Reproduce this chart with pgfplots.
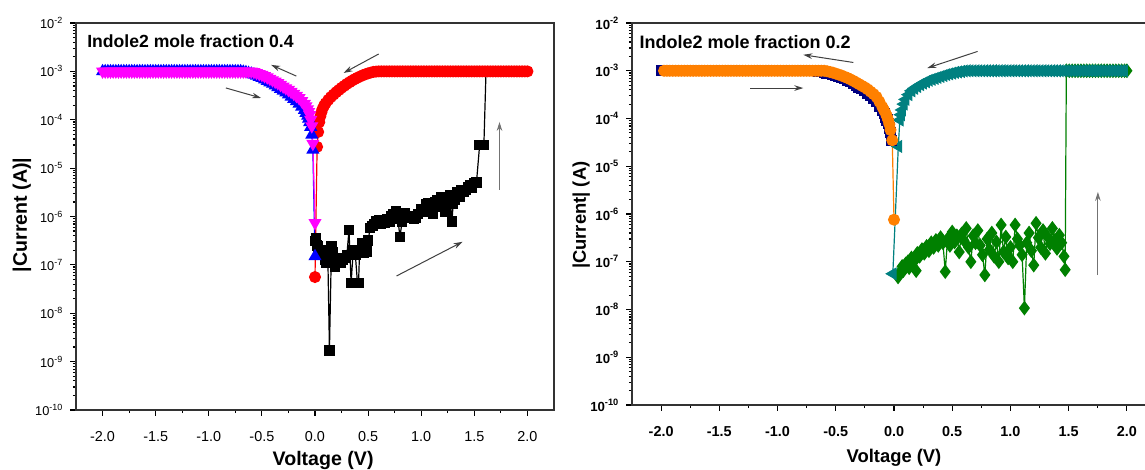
\documentclass[border=0pt]{standalone}
\usepackage{fontspec}
\setmainfont{Liberation Sans}
\usepackage{pgfplots}
\pgfplotsset{compat=1.18}
\usepackage{pgfplotstable}
\usetikzlibrary{arrows.meta}

\definecolor{cRed}{RGB}{255,0,0}
\definecolor{cBlue}{RGB}{0,0,255}
\definecolor{cMagenta}{RGB}{255,0,255}
\definecolor{cNavy}{RGB}{0,0,128}
\definecolor{cOrange}{RGB}{255,128,0}
\definecolor{cTeal}{RGB}{0,128,128}
\definecolor{cGreen}{RGB}{0,128,0}

% ---------------- left panel (mole fraction 0.4) ----------------
\pgfplotstableread{
x y
0.00 3.1e-7
0.01 3.5e-7
0.02 2.5e-7
0.03 2.4e-7
0.04 2.0e-7
0.05 1.8e-7
0.06 1.9e-7
0.08 1.6e-7
0.10 1.26e-7
0.11 1.1e-7
0.12 2.0e-7
0.136 1.7e-9
0.155 2.4e-7
0.17 1.8e-7
0.19 9.1e-8
0.21 1.4e-7
0.22 1.26e-7
0.24 1.1e-7
0.26 1.26e-7
0.285 1.4e-7
0.30 1.6e-7
0.32 5.2e-7
0.34 4.2e-8
0.36 2.0e-7
0.38 1.6e-7
0.40 4.2e-8
0.41 4.2e-8
0.42 2.0e-7
0.44 2.8e-7
0.46 1.8e-7
0.48 2.5e-7
0.49 1.9e-7
0.50 3.2e-7
0.52 5.8e-7
0.54 6.3e-7
0.56 7.1e-7
0.58 7.9e-7
0.60 8.5e-7
0.62 7.1e-7
0.64 7.6e-7
0.66 7.4e-7
0.68 8.9e-7
0.70 7.9e-7
0.72 1.0e-6
0.74 1.12e-6
0.76 1.26e-6
0.78 8.9e-7
0.80 3.8e-7
0.82 7.9e-7
0.85 1.17e-6
0.87 1.0e-6
0.90 9.5e-7
0.93 8.9e-7
0.95 9.3e-7
0.97 1.12e-6
1.00 1.4e-6
1.02 1.26e-6
1.05 1.8e-6
1.07 1.9e-6
1.09 1.4e-6
1.11 1.12e-6
1.13 2.0e-6
1.15 2.2e-6
1.17 1.6e-6
1.19 2.5e-6
1.21 2.0e-6
1.23 1.26e-6
1.25 2.2e-6
1.27 2.8e-6
1.29 7.9e-7
1.30 1.8e-6
1.32 2.2e-6
1.34 3.2e-6
1.36 2.5e-6
1.38 3.5e-6
1.40 3.2e-6
1.42 3.5e-6
1.44 4.0e-6
1.46 4.5e-6
1.48 4.0e-6
1.50 4.9e-6
1.52 5.0e-6
1.55 3.0e-5
1.59 3.0e-5
1.61 1.0e-3
}\blackdata

\pgfplotstableread[row sep=\\]{
x y\\
2.000 1e-3\\ 1.975 1e-3\\ 1.950 1e-3\\ 1.925 1e-3\\ 1.900 1e-3\\ 1.875 1e-3\\ 1.850 1e-3\\ 1.825 1e-3\\
1.800 1e-3\\ 1.775 1e-3\\ 1.750 1e-3\\ 1.725 1e-3\\ 1.700 1e-3\\ 1.675 1e-3\\ 1.650 1e-3\\ 1.625 1e-3\\
1.600 1e-3\\ 1.575 1e-3\\ 1.550 1e-3\\ 1.525 1e-3\\ 1.500 1e-3\\ 1.475 1e-3\\ 1.450 1e-3\\ 1.425 1e-3\\
1.400 1e-3\\ 1.375 1e-3\\ 1.350 1e-3\\ 1.325 1e-3\\ 1.300 1e-3\\ 1.275 1e-3\\ 1.250 1e-3\\ 1.225 1e-3\\
1.200 1e-3\\ 1.175 1e-3\\ 1.150 1e-3\\ 1.125 1e-3\\ 1.100 1e-3\\ 1.075 1e-3\\ 1.050 1e-3\\ 1.025 1e-3\\
1.000 1e-3\\ 0.975 1e-3\\ 0.950 1e-3\\ 0.925 1e-3\\ 0.900 1e-3\\ 0.875 1e-3\\ 0.850 1e-3\\ 0.825 1e-3\\
0.800 1e-3\\ 0.775 1e-3\\ 0.750 1e-3\\ 0.725 1e-3\\ 0.700 1e-3\\ 0.675 1e-3\\ 0.650 1e-3\\ 0.625 1e-3\\
0.600 1e-3\\ 0.575 9.89e-4\\ 0.55 9.77e-4\\ 0.525 9.44e-4\\ 0.50 9.12e-4\\ 0.475 8.71e-4\\ 0.45 8.32e-4\\
0.425 7.85e-4\\ 0.40 7.41e-4\\ 0.375 6.92e-4\\ 0.35 6.46e-4\\ 0.325 5.96e-4\\ 0.30 5.50e-4\\ 0.275 5.01e-4\\
0.25 4.57e-4\\ 0.225 4.12e-4\\ 0.20 3.72e-4\\ 0.175 3.31e-4\\ 0.15 2.95e-4\\ 0.125 2.57e-4\\ 0.10 2.19e-4\\
0.085 1.95e-4\\ 0.07 1.66e-4\\ 0.06 1.41e-4\\ 0.05 1.17e-4\\ 0.04 8.9e-5\\ 0.03 5.6e-5\\ 0.02 2.75e-5\\
0.00 5.6e-8\\
}\reddata

\pgfplotstableread[row sep=\\]{
x y\\
0.00 1.5e-7\\ -0.02 2.4e-5\\ -0.03 4.9e-5\\ -0.04 7.1e-5\\ -0.05 8.9e-5\\ -0.06 1.05e-4\\ -0.07 1.2e-4\\
-0.085 1.38e-4\\ -0.10 1.58e-4\\ -0.125 1.86e-4\\ -0.15 2.14e-4\\ -0.175 2.40e-4\\ -0.20 2.69e-4\\
-0.225 2.99e-4\\ -0.25 3.31e-4\\ -0.275 3.63e-4\\ -0.30 3.98e-4\\ -0.325 4.32e-4\\ -0.35 4.68e-4\\
-0.375 5.07e-4\\ -0.40 5.50e-4\\ -0.425 5.89e-4\\ -0.45 6.31e-4\\ -0.475 6.76e-4\\ -0.50 7.24e-4\\
-0.525 7.67e-4\\ -0.55 8.13e-4\\ -0.575 8.51e-4\\ -0.60 8.91e-4\\ -0.625 9.23e-4\\ -0.65 9.55e-4\\
-0.675 9.77e-4\\
-0.700 1e-3\\ -0.725 1e-3\\ -0.750 1e-3\\ -0.775 1e-3\\ -0.800 1e-3\\ -0.825 1e-3\\ -0.850 1e-3\\ -0.875 1e-3\\
-0.900 1e-3\\ -0.925 1e-3\\ -0.950 1e-3\\ -0.975 1e-3\\ -1.000 1e-3\\ -1.025 1e-3\\ -1.050 1e-3\\ -1.075 1e-3\\
-1.100 1e-3\\ -1.125 1e-3\\ -1.150 1e-3\\ -1.175 1e-3\\ -1.200 1e-3\\ -1.225 1e-3\\ -1.250 1e-3\\ -1.275 1e-3\\
-1.300 1e-3\\ -1.325 1e-3\\ -1.350 1e-3\\ -1.375 1e-3\\ -1.400 1e-3\\ -1.425 1e-3\\ -1.450 1e-3\\ -1.475 1e-3\\
-1.500 1e-3\\ -1.525 1e-3\\ -1.550 1e-3\\ -1.575 1e-3\\ -1.600 1e-3\\ -1.625 1e-3\\ -1.650 1e-3\\ -1.675 1e-3\\
-1.700 1e-3\\ -1.725 1e-3\\ -1.750 1e-3\\ -1.775 1e-3\\ -1.800 1e-3\\ -1.825 1e-3\\ -1.850 1e-3\\ -1.875 1e-3\\
-1.900 1e-3\\ -1.925 1e-3\\ -1.950 1e-3\\ -1.975 1e-3\\ -2.000 1e-3\\
}\bluedata

\pgfplotstableread[row sep=\\]{
x y\\
-2.000 1e-3\\ -1.975 1e-3\\ -1.950 1e-3\\ -1.925 1e-3\\ -1.900 1e-3\\ -1.875 1e-3\\ -1.850 1e-3\\ -1.825 1e-3\\
-1.800 1e-3\\ -1.775 1e-3\\ -1.750 1e-3\\ -1.725 1e-3\\ -1.700 1e-3\\ -1.675 1e-3\\ -1.650 1e-3\\ -1.625 1e-3\\
-1.600 1e-3\\ -1.575 1e-3\\ -1.550 1e-3\\ -1.525 1e-3\\ -1.500 1e-3\\ -1.475 1e-3\\ -1.450 1e-3\\ -1.425 1e-3\\
-1.400 1e-3\\ -1.375 1e-3\\ -1.350 1e-3\\ -1.325 1e-3\\ -1.300 1e-3\\ -1.275 1e-3\\ -1.250 1e-3\\ -1.225 1e-3\\
-1.200 1e-3\\ -1.175 1e-3\\ -1.150 1e-3\\ -1.125 1e-3\\ -1.100 1e-3\\ -1.075 1e-3\\ -1.050 1e-3\\ -1.025 1e-3\\
-1.000 1e-3\\ -0.975 1e-3\\ -0.950 1e-3\\ -0.925 1e-3\\ -0.900 1e-3\\ -0.875 1e-3\\ -0.850 1e-3\\ -0.825 1e-3\\
-0.800 1e-3\\ -0.775 1e-3\\ -0.750 1e-3\\ -0.725 1e-3\\ -0.700 1e-3\\ -0.675 1e-3\\ -0.650 1e-3\\ -0.625 1e-3\\
-0.60 1e-3\\ -0.575 9.77e-4\\ -0.55 9.33e-4\\ -0.525 8.91e-4\\ -0.50 8.51e-4\\ -0.475 8.04e-4\\ -0.45 7.59e-4\\
-0.425 7.08e-4\\ -0.40 6.61e-4\\ -0.375 6.17e-4\\ -0.35 5.75e-4\\ -0.325 5.31e-4\\ -0.30 4.90e-4\\
-0.275 4.52e-4\\ -0.25 4.17e-4\\ -0.225 3.80e-4\\ -0.20 3.47e-4\\ -0.175 3.13e-4\\ -0.15 2.82e-4\\
-0.125 2.45e-4\\ -0.10 2.14e-4\\ -0.085 1.91e-4\\ -0.07 1.66e-4\\ -0.06 1.45e-4\\ -0.05 1.26e-4\\
-0.04 1.0e-4\\ -0.03 7.4e-5\\ -0.02 3.2e-5\\ 0.00 7.4e-7\\
}\magentadata

% ---------------- right panel (mole fraction 0.2) ----------------
\pgfplotstableread[row sep=\\]{
x y\\
0.035 4.8e-8\\ 0.05 6.0e-8\\ 0.07 8.0e-8\\ 0.08 6.5e-8\\ 0.10 9.0e-8\\ 0.12 1.0e-7\\ 0.13 7.5e-8\\
0.15 1.2e-7\\ 0.17 1.0e-7\\ 0.19 6.5e-8\\ 0.20 1.5e-7\\ 0.22 1.3e-7\\ 0.24 1.8e-7\\ 0.26 1.5e-7\\
0.28 2.1e-7\\ 0.30 1.7e-7\\ 0.32 2.5e-7\\ 0.34 2.0e-7\\ 0.36 2.8e-7\\ 0.38 2.2e-7\\ 0.40 3.2e-7\\
0.42 2.5e-7\\ 0.44 6.2e-8\\ 0.46 3.0e-7\\ 0.48 2.2e-7\\ 0.50 4.2e-7\\ 0.52 2.6e-7\\ 0.54 3.5e-7\\
0.56 1.6e-7\\ 0.58 3.8e-7\\ 0.60 2.8e-7\\ 0.62 5.0e-7\\ 0.64 2.0e-7\\ 0.66 1.0e-7\\ 0.68 3.5e-7\\
0.70 2.5e-7\\ 0.72 4.5e-7\\ 0.74 2.2e-7\\ 0.76 1.4e-7\\ 0.78 5.3e-8\\ 0.80 3.0e-7\\ 0.82 1.8e-7\\
0.84 4.0e-7\\ 0.86 1.3e-7\\ 0.88 2.6e-7\\ 0.90 1.0e-7\\ 0.92 5.9e-7\\ 0.94 1.6e-7\\ 0.96 3.3e-7\\
0.98 1.2e-7\\ 1.00 2.0e-7\\ 1.02 1.0e-7\\ 1.04 5.9e-7\\ 1.06 3.0e-7\\ 1.08 2.2e-7\\ 1.10 1.4e-7\\
1.12 1.07e-8\\ 1.14 2.5e-7\\ 1.16 4.0e-7\\ 1.18 1.7e-7\\ 1.20 8.5e-8\\ 1.22 6.4e-7\\ 1.24 3.2e-7\\
1.26 2.0e-7\\ 1.28 4.5e-7\\ 1.30 1.5e-7\\ 1.32 3.3e-7\\ 1.34 2.4e-7\\ 1.36 5.0e-7\\ 1.38 2.8e-7\\
1.40 1.9e-7\\ 1.42 3.6e-7\\ 1.44 2.5e-7\\ 1.46 1.3e-7\\ 1.47 6.8e-8\\
1.48 1e-3\\ 1.505 1e-3\\ 1.53 1e-3\\ 1.555 1e-3\\ 1.58 1e-3\\ 1.605 1e-3\\ 1.63 1e-3\\ 1.655 1e-3\\
1.68 1e-3\\ 1.705 1e-3\\ 1.73 1e-3\\ 1.755 1e-3\\ 1.78 1e-3\\ 1.805 1e-3\\ 1.83 1e-3\\ 1.855 1e-3\\
1.88 1e-3\\ 1.905 1e-3\\ 1.93 1e-3\\ 1.955 1e-3\\ 1.98 1e-3\\ 2.00 1e-3\\
}\greendata

\pgfplotstableread[row sep=\\]{
x y\\
1.975 1e-3\\ 1.950 1e-3\\ 1.925 1e-3\\ 1.900 1e-3\\ 1.875 1e-3\\ 1.850 1e-3\\ 1.825 1e-3\\
1.800 1e-3\\ 1.775 1e-3\\ 1.750 1e-3\\ 1.725 1e-3\\ 1.700 1e-3\\ 1.675 1e-3\\ 1.650 1e-3\\ 1.625 1e-3\\
1.600 1e-3\\ 1.575 1e-3\\ 1.550 1e-3\\ 1.525 1e-3\\ 1.500 1e-3\\ 1.475 1e-3\\ 1.450 1e-3\\ 1.425 1e-3\\
1.400 1e-3\\ 1.375 1e-3\\ 1.350 1e-3\\ 1.325 1e-3\\ 1.300 1e-3\\ 1.275 1e-3\\ 1.250 1e-3\\ 1.225 1e-3\\
1.200 1e-3\\ 1.175 1e-3\\ 1.150 1e-3\\ 1.125 1e-3\\ 1.100 1e-3\\ 1.075 1e-3\\ 1.050 1e-3\\ 1.025 1e-3\\
1.000 1e-3\\ 0.975 1e-3\\ 0.950 1e-3\\ 0.925 1e-3\\ 0.900 1e-3\\ 0.875 1e-3\\ 0.850 1e-3\\ 0.825 1e-3\\
0.800 1e-3\\ 0.775 1e-3\\ 0.750 1e-3\\ 0.725 1e-3\\ 0.700 1e-3\\ 0.675 1e-3\\ 0.650 1e-3\\ 0.625 1e-3\\
0.60 9.9e-4\\ 0.575 9.66e-4\\ 0.55 9.44e-4\\ 0.525 9.23e-4\\ 0.50 8.91e-4\\ 0.475 8.61e-4\\ 0.45 8.32e-4\\
0.425 7.94e-4\\ 0.40 7.59e-4\\ 0.375 7.24e-4\\ 0.35 6.92e-4\\ 0.325 6.61e-4\\ 0.30 6.31e-4\\
0.275 5.89e-4\\ 0.25 5.50e-4\\ 0.225 5.13e-4\\ 0.20 4.68e-4\\ 0.175 4.27e-4\\ 0.15 3.80e-4\\
0.125 3.16e-4\\ 0.10 2.51e-4\\ 0.085 2.0e-4\\ 0.07 1.51e-4\\ 0.06 1.20e-4\\ 0.05 9.3e-5\\
0.037 2.6e-5\\ -0.01 5.6e-8\\
}\tealdata

\pgfplotstableread[row sep=\\]{
x y\\
-0.02 3.5e-5\\ -0.03 5.0e-5\\ -0.04 6.3e-5\\ -0.05 7.9e-5\\ -0.06 9.3e-5\\ -0.07 1.07e-4\\
-0.085 1.26e-4\\ -0.10 1.45e-4\\ -0.125 1.82e-4\\ -0.15 2.24e-4\\ -0.175 2.63e-4\\ -0.20 3.02e-4\\
-0.225 3.39e-4\\ -0.25 3.80e-4\\ -0.275 4.17e-4\\ -0.30 4.57e-4\\ -0.325 5.01e-4\\ -0.35 5.37e-4\\
-0.375 5.89e-4\\ -0.40 6.31e-4\\ -0.425 6.76e-4\\ -0.45 7.16e-4\\ -0.475 7.59e-4\\ -0.50 7.94e-4\\
-0.525 8.32e-4\\ -0.55 8.71e-4\\ -0.575 9.02e-4\\ -0.60 9.33e-4\\ -0.625 9.55e-4\\ -0.65 9.77e-4\\
-0.675 1e-3\\
-0.700 1e-3\\ -0.725 1e-3\\ -0.750 1e-3\\ -0.775 1e-3\\ -0.800 1e-3\\ -0.825 1e-3\\ -0.850 1e-3\\ -0.875 1e-3\\
-0.900 1e-3\\ -0.925 1e-3\\ -0.950 1e-3\\ -0.975 1e-3\\ -1.000 1e-3\\ -1.025 1e-3\\ -1.050 1e-3\\ -1.075 1e-3\\
-1.100 1e-3\\ -1.125 1e-3\\ -1.150 1e-3\\ -1.175 1e-3\\ -1.200 1e-3\\ -1.225 1e-3\\ -1.250 1e-3\\ -1.275 1e-3\\
-1.300 1e-3\\ -1.325 1e-3\\ -1.350 1e-3\\ -1.375 1e-3\\ -1.400 1e-3\\ -1.425 1e-3\\ -1.450 1e-3\\ -1.475 1e-3\\
-1.500 1e-3\\ -1.525 1e-3\\ -1.550 1e-3\\ -1.575 1e-3\\ -1.600 1e-3\\ -1.625 1e-3\\ -1.650 1e-3\\ -1.675 1e-3\\
-1.700 1e-3\\ -1.725 1e-3\\ -1.750 1e-3\\ -1.775 1e-3\\ -1.800 1e-3\\ -1.825 1e-3\\ -1.850 1e-3\\ -1.875 1e-3\\
-1.900 1e-3\\ -1.925 1e-3\\ -1.950 1e-3\\ -1.975 1e-3\\ -2.000 1e-3\\
}\navydata

\pgfplotstableread[row sep=\\]{
x y\\
-1.975 1e-3\\ -1.950 1e-3\\ -1.925 1e-3\\ -1.900 1e-3\\ -1.875 1e-3\\ -1.850 1e-3\\ -1.825 1e-3\\
-1.800 1e-3\\ -1.775 1e-3\\ -1.750 1e-3\\ -1.725 1e-3\\ -1.700 1e-3\\ -1.675 1e-3\\ -1.650 1e-3\\ -1.625 1e-3\\
-1.600 1e-3\\ -1.575 1e-3\\ -1.550 1e-3\\ -1.525 1e-3\\ -1.500 1e-3\\ -1.475 1e-3\\ -1.450 1e-3\\ -1.425 1e-3\\
-1.400 1e-3\\ -1.375 1e-3\\ -1.350 1e-3\\ -1.325 1e-3\\ -1.300 1e-3\\ -1.275 1e-3\\ -1.250 1e-3\\ -1.225 1e-3\\
-1.200 1e-3\\ -1.175 1e-3\\ -1.150 1e-3\\ -1.125 1e-3\\ -1.100 1e-3\\ -1.075 1e-3\\ -1.050 1e-3\\ -1.025 1e-3\\
-1.000 1e-3\\ -0.975 1e-3\\ -0.950 1e-3\\ -0.925 1e-3\\ -0.900 1e-3\\ -0.875 1e-3\\ -0.850 1e-3\\ -0.825 1e-3\\
-0.800 1e-3\\ -0.775 1e-3\\ -0.750 1e-3\\ -0.725 1e-3\\ -0.700 1e-3\\ -0.675 1e-3\\ -0.650 1e-3\\ -0.625 1e-3\\
-0.60 1e-3\\ -0.575 9.77e-4\\ -0.55 9.44e-4\\ -0.525 9.12e-4\\ -0.50 8.71e-4\\ -0.475 8.32e-4\\
-0.45 7.94e-4\\ -0.425 7.50e-4\\ -0.40 7.08e-4\\ -0.375 6.61e-4\\ -0.35 6.17e-4\\ -0.325 5.69e-4\\
-0.30 5.25e-4\\ -0.275 4.84e-4\\ -0.25 4.47e-4\\ -0.225 4.07e-4\\ -0.20 3.63e-4\\ -0.175 3.24e-4\\
-0.15 2.82e-4\\ -0.125 2.24e-4\\ -0.10 1.74e-4\\ -0.085 1.48e-4\\ -0.07 1.26e-4\\ -0.06 1.10e-4\\
-0.05 9.3e-5\\ -0.04 7.6e-5\\ -0.03 5.75e-5\\ -0.015 3.5e-5\\ 0.00 7.6e-7\\
}\orangedata

\tikzset{arr/.style={-{Stealth[length=4.5pt,width=2.8pt]}, line width=0.5pt, black!75}}

\begin{document}
\begin{tikzpicture}
\useasboundingbox (0,0) rectangle (572.5pt,235pt);
\clip (0,0) rectangle (572.5pt,235pt);

% ================= LEFT =================
\begin{axis}[
  scale only axis, ymode=log, log basis y=10,
  xmin=-2.25, xmax=2.25, ymin=1e-10, ymax=1e-2,
  xtick={-2,-1.5,-1,-0.5,0,0.5,1,1.5,2},
  xticklabels={-2.0,-1.5,-1.0,-0.5,0.0,0.5,1.0,1.5,2.0},
  minor x tick num=1,
  ytick={1e-10,1e-9,1e-8,1e-7,1e-6,1e-5,1e-4,1e-3,1e-2},
  minor ytick={2e-10,3e-10,4e-10,5e-10,6e-10,7e-10,8e-10,9e-10,
    2e-9,3e-9,4e-9,5e-9,6e-9,7e-9,8e-9,9e-9,
    2e-8,3e-8,4e-8,5e-8,6e-8,7e-8,8e-8,9e-8,
    2e-7,3e-7,4e-7,5e-7,6e-7,7e-7,8e-7,9e-7,
    2e-6,3e-6,4e-6,5e-6,6e-6,7e-6,8e-6,9e-6,
    2e-5,3e-5,4e-5,5e-5,6e-5,7e-5,8e-5,9e-5,
    2e-4,3e-4,4e-4,5e-4,6e-4,7e-4,8e-4,9e-4,
    2e-3,3e-3,4e-3,5e-3,6e-3,7e-3,8e-3,9e-3},
  yticklabel={\pgfmathtruncatemacro{\ex}{round(\tick)}10\textsuperscript{\ex}},
  tick pos=left, tick align=outside,
  major tick length=2.8pt, minor tick length=1.6pt,
  every tick/.append style={black, line width=0.6pt},
  axis line style={line width=0.8pt, black!80},
  at={(38pt,30pt)}, anchor=south west, width=239pt, height=193.5pt,
  xticklabel style={font=\fontsize{7.2}{8}\selectfont, yshift=-4.5pt},
  yticklabel style={font=\fontsize{6.4}{7}\selectfont},
  xlabel={Voltage (V)}, ylabel={|Current (A)|},
  xlabel style={font=\bfseries\fontsize{9.8}{11}\selectfont, at={(axis description cs:0.517,-0.13)}, anchor=center},
  ylabel style={font=\bfseries\fontsize{9.8}{11}\selectfont, at={(axis description cs:-0.113,0.504)}, anchor=center},
]
\addplot[black, line width=0.6pt, mark=square*, mark size=2.3pt, mark options={solid}] table {\blackdata};
\addplot[cRed, line width=0.6pt, mark=*, mark size=2.7pt, mark options={solid}] table {\reddata};
\addplot[cBlue, line width=0.6pt, mark=triangle*, mark size=3.2pt, mark options={solid}] table {\bluedata};
\addplot[cMagenta, line width=0.6pt, mark=triangle*, mark size=3.2pt, mark options={solid, rotate=180}] table {\magentadata};

\node[font=\bfseries\fontsize{8.8}{10}\selectfont] at (rel axis cs:0.2395,0.953) {Indole2 mole fraction 0.4};

\draw[arr] (axis cs:-0.176,8.0e-4) -- (axis cs:-0.413,1.36e-3);
\draw[arr] (axis cs:-0.839,4.54e-4) -- (axis cs:-0.508,2.82e-4);
\draw[arr] (axis cs:0.60,2.29e-3) -- (axis cs:0.269,9.27e-4);
\draw[arr, black!55] (axis cs:1.737,3.55e-6) -- (axis cs:1.737,9.0e-5);
\draw[arr] (axis cs:0.768,5.9e-8) -- (axis cs:1.389,3.0e-7);
\end{axis}

% ================= RIGHT =================
\begin{axis}[
  scale only axis, ymode=log, log basis y=10,
  xmin=-2.25, xmax=2.25, ymin=1e-10, ymax=1e-2,
  xtick={-2,-1.5,-1,-0.5,0,0.5,1,1.5,2},
  xticklabels={-2.0,-1.5,-1.0,-0.5,0.0,0.5,1.0,1.5,2.0},
  minor x tick num=1,
  ytick={1e-10,1e-9,1e-8,1e-7,1e-6,1e-5,1e-4,1e-3,1e-2},
  minor ytick={2e-10,3e-10,4e-10,5e-10,6e-10,7e-10,8e-10,9e-10,
    2e-9,3e-9,4e-9,5e-9,6e-9,7e-9,8e-9,9e-9,
    2e-8,3e-8,4e-8,5e-8,6e-8,7e-8,8e-8,9e-8,
    2e-7,3e-7,4e-7,5e-7,6e-7,7e-7,8e-7,9e-7,
    2e-6,3e-6,4e-6,5e-6,6e-6,7e-6,8e-6,9e-6,
    2e-5,3e-5,4e-5,5e-5,6e-5,7e-5,8e-5,9e-5,
    2e-4,3e-4,4e-4,5e-4,6e-4,7e-4,8e-4,9e-4,
    2e-3,3e-3,4e-3,5e-3,6e-3,7e-3,8e-3,9e-3},
  yticklabel={\pgfmathtruncatemacro{\ex}{round(\tick)}10\textsuperscript{\ex}},
  tick pos=left, tick align=outside,
  major tick length=2.8pt, minor tick length=1.6pt,
  every tick/.append style={black, line width=0.6pt},
  axis line style={line width=0.8pt, black!80},
  at={(316pt,32.5pt)}, anchor=south west, width=262pt, height=191pt,
  xticklabel style={font=\bfseries\fontsize{7.2}{8}\selectfont, yshift=-4.5pt},
  yticklabel style={font=\bfseries\fontsize{6.6}{7}\selectfont},
  xlabel={Voltage (V)}, ylabel={|Current| (A)},
  xlabel style={font=\bfseries\fontsize{9.2}{11}\selectfont, at={(axis description cs:0.5,-0.139)}, anchor=center},
  ylabel style={font=\bfseries\fontsize{9.2}{11}\selectfont, at={(axis description cs:-0.097,0.497)}, anchor=center},
]
\addplot[cGreen, line width=0.6pt, mark=diamond*, mark size=3.2pt, mark options={solid}] table {\greendata};
\addplot[cTeal, line width=0.6pt, mark=triangle*, mark size=3.2pt, mark options={solid, rotate=90}] table {\tealdata};
\addplot[cNavy, line width=0.6pt, mark=square*, mark size=2.5pt, mark options={solid}] table {\navydata};
\addplot[cOrange, line width=0.6pt, mark=*, mark size=2.7pt, mark options={solid}] table {\orangedata};

\node[font=\bfseries\fontsize{9}{10}\selectfont] at (rel axis cs:0.2157,0.951) {Indole2 mole fraction 0.2};

\draw[arr] (axis cs:-0.349,1.49e-3) -- (axis cs:-0.779,2.16e-3);
\draw[arr] (axis cs:-1.236,4.34e-4) -- (axis cs:-0.779,4.34e-4);
\draw[arr] (axis cs:0.718,2.54e-3) -- (axis cs:0.286,1.14e-3);
\draw[arr, black!55] (axis cs:1.751,5.28e-8) -- (axis cs:1.751,2.9e-6);
\end{axis}
\end{tikzpicture}
\end{document}
